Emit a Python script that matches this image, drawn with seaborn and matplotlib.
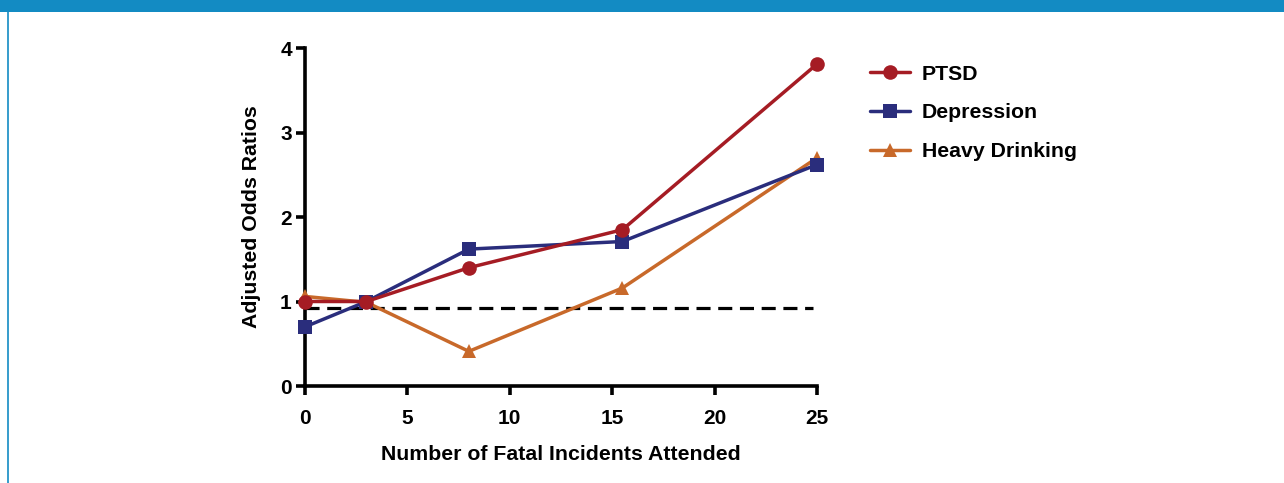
import matplotlib
matplotlib.use("Agg")
import matplotlib.pyplot as plt
import seaborn as sns
import pandas as pd
from matplotlib.patches import Rectangle
from matplotlib.lines import Line2D

incidents = [0, 3, 8, 15.5, 25]
ptsd = [1.00, 1.00, 1.40, 1.85, 3.81]
depression = [0.70, 1.00, 1.62, 1.71, 2.62]
heavy_drinking = [1.06, 0.99, 0.41, 1.16, 2.70]
reference_line = 0.92
x_ticks = [0, 5, 10, 15, 20, 25]
y_ticks = [0, 1, 2, 3, 4]

series = [
    ("PTSD", ptsd, "#A51C24", "o"),
    ("Depression", depression, "#2A2D7C", "s"),
    ("Heavy Drinking", heavy_drinking, "#C8692A", "^"),
]

sns.set_theme(style="white")
plt.rcParams['font.family'] = ['Liberation Sans', 'DejaVu Sans']
plt.rcParams['font.weight'] = 'bold'
plt.rcParams['text.color'] = 'black'
plt.rcParams['axes.labelcolor'] = 'black'
plt.rcParams['xtick.color'] = 'black'
plt.rcParams['ytick.color'] = 'black'

fig = plt.figure(figsize=(12.84, 4.83), dpi=100)
ax = fig.add_axes([305/1284, 1-386/483, (817-305)/1284, (386-48)/483])

ax.plot([0, 24.8], [reference_line, reference_line], color="black", lw=2.3,
        ls=(0, (4.4, 2.4)), zorder=1)

for name, vals, col, mk in series[::-1]:
    df = pd.DataFrame({"x": incidents, "y": vals})
    sns.lineplot(data=df, x="x", y="y", ax=ax, color=col, lw=2.5, marker=mk,
                 markersize=10.5 if mk != "^" else 10, markeredgewidth=0,
                 label=name, clip_on=False, zorder=3)

ax.set_xlim(0, 25)
ax.set_ylim(0, 4)
ax.set_xticks(x_ticks)
ax.set_yticks(y_ticks)
for s in ["top", "right"]:
    ax.spines[s].set_visible(False)
for s in ["left", "bottom"]:
    ax.spines[s].set_linewidth(2.6)
    ax.spines[s].set_color("black")
ax.tick_params(axis="both", direction="out", length=6.5, width=2.6, color="black",
               labelsize=15, bottom=True, left=True, labelcolor="black")
ax.tick_params(axis="x", pad=10)
ax.tick_params(axis="y", pad=3)
for lab in ax.get_xticklabels() + ax.get_yticklabels():
    lab.set_fontweight("bold")
ax.set_xlabel("Number of Fatal Incidents Attended", fontsize=15.3, fontweight="bold",
              labelpad=12, color="black")
ax.set_ylabel("Adjusted Odds Ratios", fontsize=15.3, fontweight="bold",
              labelpad=14, color="black")

handles, labels = ax.get_legend_handles_labels()
leg = ax.legend(handles[::-1], labels[::-1], loc="upper left", bbox_to_anchor=(859/1284, 1-54/483),
                bbox_transform=fig.transFigure, frameon=False, fontsize=15.3,
                handlelength=1.9, labelspacing=0.93, handletextpad=0.55, borderpad=0)
for t in leg.get_texts():
    t.set_fontweight("bold")
    t.set_color("black")

fig.patches.append(Rectangle((0, 1-12/483), 1, 12/483, transform=fig.transFigure,
                             facecolor="#138BC3", edgecolor="none", zorder=10))
fig.lines.append(Line2D([8/1284, 8/1284], [0, 1-12/483], transform=fig.transFigure,
                        color="#138BC3", lw=1.2))

fig.savefig("out.png", dpi=100)
